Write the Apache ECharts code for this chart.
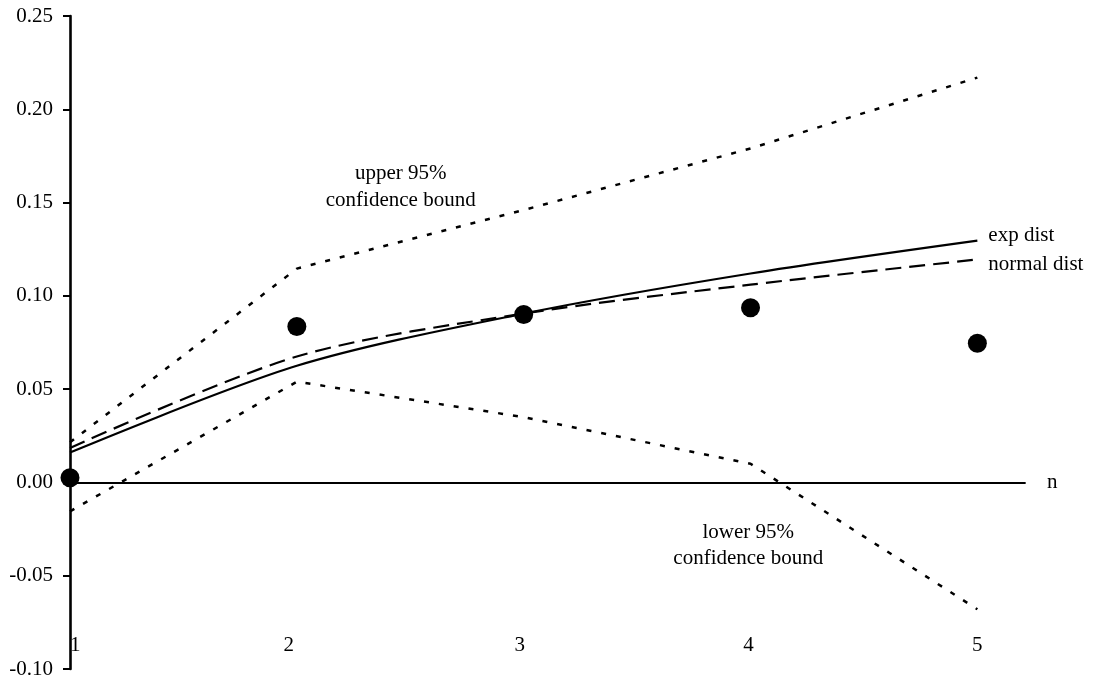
<!DOCTYPE html>
<html>
<head>
<meta charset="utf-8">
<script src="https://cdn.jsdelivr.net/npm/echarts@6/dist/echarts.min.js"></script>
<style>html,body{margin:0;padding:0;background:#fff;}#c{width:1099px;height:686px;}</style>
</head>
<body>
<div id="c"></div>
<script>
const nVals = [1, 2, 3, 4, 5];
const xTickLabels = ['1', '2', '3', '4', '5'];
const observed = [0.0025, 0.0836, 0.090, 0.0936, 0.0746];
const expDist = [0.016, 0.0625, 0.0905, 0.112, 0.1296];
const normalDist = [0.0185, 0.0675, 0.0905, 0.106, 0.1195];
const upperBound = [0.0215, 0.1146, 0.146, 0.179, 0.217];
const lowerBound = [-0.0155, 0.054, 0.035, 0.010, -0.068];
const yMin = -0.10, yMax = 0.25, yStep = 0.05;
const upperLabelAt = [2.458, 0.1586];
const lowerLabelAt = [3.99, -0.0337];

const FONT = '"Liberation Serif", "Times New Roman", serif';
const pts = arr => nVals.map((n, i) => [n, arr[i]]);
const labelShift = { '1': 0, '2': 16, '3': 8, '4': 4, '5': 0 };
const rich = {};
xTickLabels.forEach(t => {
  rich['t' + t] = { fontFamily: FONT, fontSize: 21, color: '#000', padding: [0, labelShift[t], 0, 0] };
});

const chart = echarts.init(document.getElementById('c'));
chart.setOption({
  animation: false,
  backgroundColor: '#fff',
  textStyle: { fontFamily: FONT, color: '#000' },
  grid: { left: 70, right: 74, top: 16, bottom: 17 },
  xAxis: [
    {
      type: 'value', min: 1, max: 5.21, interval: 1,
      axisLine: { show: true, onZero: true, lineStyle: { color: '#000', width: 1.8 } },
      axisTick: { show: false }, axisLabel: { show: false }, splitLine: { show: false },
      name: 'n', nameLocation: 'end', nameGap: 22,
      nameTextStyle: { fontFamily: FONT, fontSize: 21, color: '#000', verticalAlign: 'middle' }
    },
    {
      type: 'value', min: 1, max: 5.21, interval: 1, position: 'bottom',
      axisLine: { show: false }, axisTick: { show: false }, splitLine: { show: false },
      axisLabel: {
        show: true, margin: -24, verticalAlign: 'middle', alignMinLabel: 'left',
        fontFamily: FONT, fontSize: 21, color: '#000', rich: rich,
        formatter: v => { const i = nVals.indexOf(v); return i >= 0 ? '{t' + xTickLabels[i] + '|' + xTickLabels[i] + '}' : ''; }
      }
    }
  ],
  yAxis: {
    type: 'value', min: yMin, max: yMax, interval: yStep,
    axisLine: { show: true, onZero: false, lineStyle: { color: '#000', width: 2.6 } },
    axisTick: { show: true, inside: false, length: 7, lineStyle: { color: '#000', width: 2 } },
    axisLabel: { margin: 17, fontFamily: FONT, fontSize: 21, color: '#000', formatter: v => v.toFixed(2) },
    splitLine: { show: false }
  },
  series: [
    {
      type: 'line', name: 'upper', data: pts(upperBound), symbol: 'none', smooth: false,
      lineStyle: { color: '#000', width: 2.5, type: [5, 10] },
      markPoint: {
        symbol: 'circle', symbolSize: 0, silent: true,
        data: [{ coord: upperLabelAt }],
        label: { show: true, position: 'inside', formatter: 'upper 95%\nconfidence bound', fontFamily: FONT, fontSize: 21, lineHeight: 27, color: '#000', align: 'center' }
      }
    },
    {
      type: 'line', name: 'lower', data: pts(lowerBound), symbol: 'none', smooth: false,
      lineStyle: { color: '#000', width: 2.5, type: [5, 10] },
      markPoint: {
        symbol: 'circle', symbolSize: 0, silent: true,
        data: [{ coord: lowerLabelAt }],
        label: { show: true, position: 'inside', formatter: 'lower 95%\nconfidence bound', fontFamily: FONT, fontSize: 21, lineHeight: 26, color: '#000', align: 'center' }
      }
    },
    {
      type: 'line', name: 'normal dist', data: pts(normalDist), symbol: 'none', smooth: 0.3,
      lineStyle: { color: '#000', width: 2.2, type: [16, 8] },
      endLabel: { show: true, formatter: 'normal dist', distance: 11, offset: [0, 5], fontFamily: FONT, fontSize: 21, color: '#000' }
    },
    {
      type: 'line', name: 'exp dist', data: pts(expDist), symbol: 'none', smooth: 0.3,
      lineStyle: { color: '#000', width: 2.2, type: 'solid' },
      endLabel: { show: true, formatter: 'exp dist', distance: 11, offset: [0, -5], fontFamily: FONT, fontSize: 21, color: '#000' }
    },
    {
      type: 'scatter', name: 'observed', data: pts(observed), symbol: 'circle', symbolSize: 19,
      itemStyle: { color: '#000', opacity: 1 }, z: 10
    }
  ]
});
</script>
</body>
</html>
